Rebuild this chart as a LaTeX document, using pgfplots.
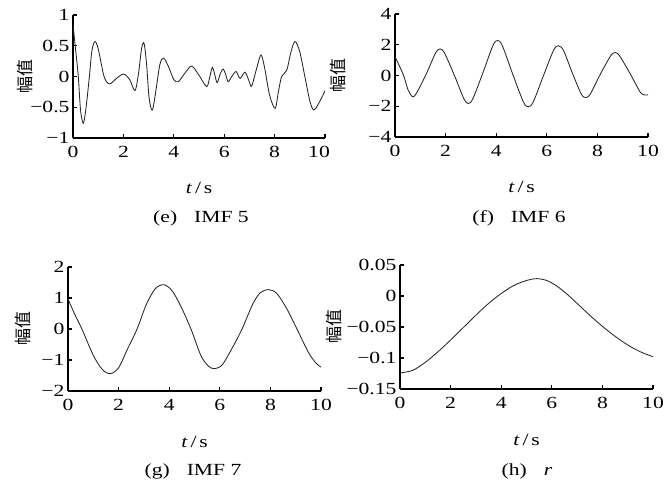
\documentclass[border=0pt]{standalone}
\usepackage{fontspec}
\setmainfont{Liberation Serif}[FakeStretch=1.27]
\newfontfamily\cjk{Noto Sans CJK SC}
\usepackage{pgfplots}
\pgfplotsset{compat=1.18}
\newcommand\bigf{\fontsize{17}{20}\selectfont}
\pgfplotsset{
  imf/.style={
    scale only axis, width=253pt, height=123pt, anchor=south west,
    xmin=0, xmax=10, xtick={0,2,4,6,8,10},
    axis x line*=bottom, axis y line*=left,
    tick align=inside, major tick length=4pt,
    axis line style={line width=1.6pt},
    every tick/.style={black, line width=1.2pt},
    tick label style={font=\bigf},
    label style={font=\bigf},
    xticklabel style={yshift=-5pt},
    xlabel={\textit{t}\,/\,s},
    xlabel style={at={(axis description cs:0.5,-0.41)}, anchor=center},
    ylabel={\cjk 幅值},
    ylabel style={at={(axis description cs:#1,0.5)}, anchor=center},
  },
  curve/.style={black!85, line width=0.85pt, smooth, mark=none},
}
\begin{document}
\begin{tikzpicture}[x=1pt,y=1pt,font=\bigf]
\path[use as bounding box] (0,0) rectangle (672,487);

% (e) IMF 5
\begin{axis}[imf=-0.19, at={(73pt,349pt)}, width=252pt,
  ymin=-1, ymax=1, ytick={-1,-0.5,0,0.5,1},
  yticklabels={−1,−0.5,0,0.5,1},
  xticklabels={0,2,4,6,8,\hspace*{-12pt}10}]
\addplot[curve] coordinates {
(0,0.84) (0.1,0.45) (0.21,0.0) (0.3,-0.55) (0.41,-0.76) (0.52,-0.5)
(0.65,0.0) (0.75,0.42) (0.87,0.57) (1.0,0.45) (1.2,0.05) (1.32,-0.08)
(1.47,-0.12) (1.7,-0.04) (2.0,0.04) (2.25,-0.05) (2.46,-0.23) (2.6,0.05)
(2.72,0.45) (2.82,0.54) (2.92,0.2) (3.02,-0.35) (3.15,-0.545) (3.3,-0.2)
(3.45,0.2) (3.6,0.3) (3.8,0.15) (4.0,-0.05) (4.18,-0.085) (4.45,0.06)
(4.71,0.17) (5.0,0.02) (5.3,-0.165) (5.42,-0.02) (5.53,0.15) (5.62,0.04)
(5.72,-0.1) (5.85,0.05) (5.96,0.12) (6.06,0.03) (6.16,-0.085) (6.3,0.0)
(6.47,0.08) (6.63,-0.03) (6.83,0.07) (7.0,-0.09) (7.09,-0.155) (7.3,0.15)
(7.46,0.35) (7.6,0.15) (7.8,-0.3) (8.02,-0.52) (8.15,-0.25) (8.28,0.0)
(8.48,0.1) (8.65,0.4) (8.81,0.57) (9.0,0.4) (9.2,0.0) (9.4,-0.4)
(9.56,-0.545) (9.8,-0.4) (10,-0.23)
};
\end{axis}

% (f) IMF 6
\begin{axis}[imf=-0.226, at={(395pt,350pt)},
  ymin=-4, ymax=4, ytick={-4,-2,0,2,4},
  yticklabels={−4,−2,0,2,4},
  xticklabels={0,2,4,6,8,10}]
\addplot[curve] coordinates {
(0,1.23) (0.15,0.7) (0.34,0) (0.52,-0.95) (0.71,-1.39) (0.9,-1.0)
(1.25,0.15) (1.6,1.45) (1.78,1.73) (1.96,1.45) (2.35,0) (2.72,-1.5)
(2.9,-1.82) (3.08,-1.5) (3.48,0.2) (3.87,1.95) (4.05,2.28) (4.24,1.95)
(4.65,0.1) (5.07,-1.7) (5.27,-2.04) (5.47,-1.7) (5.87,0) (6.27,1.65)
(6.47,1.93) (6.67,1.6) (7.0,0.2) (7.36,-1.2) (7.54,-1.43) (7.72,-1.2)
(8.12,0.1) (8.52,1.27) (8.7,1.49) (8.88,1.27) (9.3,0.1) (9.7,-1.1)
(9.9,-1.27) (10,-1.25)
};
\end{axis}

% (g) IMF 7
\begin{axis}[imf=-0.179, at={(68pt,96pt)}, height=124pt,
  ymin=-2, ymax=2, ytick={-2,-1,0,1,2},
  yticklabels={−2,−1,0,1,2},
  xticklabels={0,2,4,6,8,10}]
\addplot[curve] coordinates {
(0,0.98) (0.25,0.5) (0.55,0) (1.0,-0.85) (1.35,-1.3) (1.67,-1.44)
(2.0,-1.25) (2.35,-0.65) (2.73,0) (3.1,0.8) (3.45,1.3) (3.78,1.43)
(4.1,1.25) (4.45,0.75) (4.86,0) (5.25,-0.85) (5.55,-1.2) (5.8,-1.28)
(6.1,-1.15) (6.5,-0.6) (6.88,0) (7.3,0.8) (7.6,1.17) (7.93,1.27)
(8.25,1.15) (8.65,0.65) (9.05,0) (9.5,-0.75) (9.8,-1.1) (10,-1.23)
};
\end{axis}

% (h) r
\begin{axis}[imf=-0.26, at={(400pt,98pt)}, height=124pt,
  ymin=-0.15, ymax=0.05, ytick={-0.15,-0.1,-0.05,0,0.05},
  yticklabels={−0.15,−0.1,−0.05,0,0.05},
  xticklabels={0,2,4,6,8,10}]
\addplot[curve] coordinates {
(0,-0.124) (0.5,-0.12) (1,-0.107) (1.5,-0.09) (2,-0.071) (2.5,-0.051)
(3,-0.031) (3.5,-0.012) (4,0.004) (4.5,0.017) (5,0.025) (5.4,0.028)
(5.8,0.025) (6.2,0.016) (6.6,0.003) (7,-0.012) (7.5,-0.031) (8,-0.049)
(8.5,-0.065) (9,-0.079) (9.5,-0.09) (10,-0.098)
};
\end{axis}

\node at (201pt,269pt) {(e)\quad IMF 5};
\node at (519pt,269pt) {(f)\quad IMF 6};
\node at (193pt,16pt) {(g)\quad IMF 7};
\node at (527pt,16pt) {(h)\quad \textit{r}};
\end{tikzpicture}
\end{document}
